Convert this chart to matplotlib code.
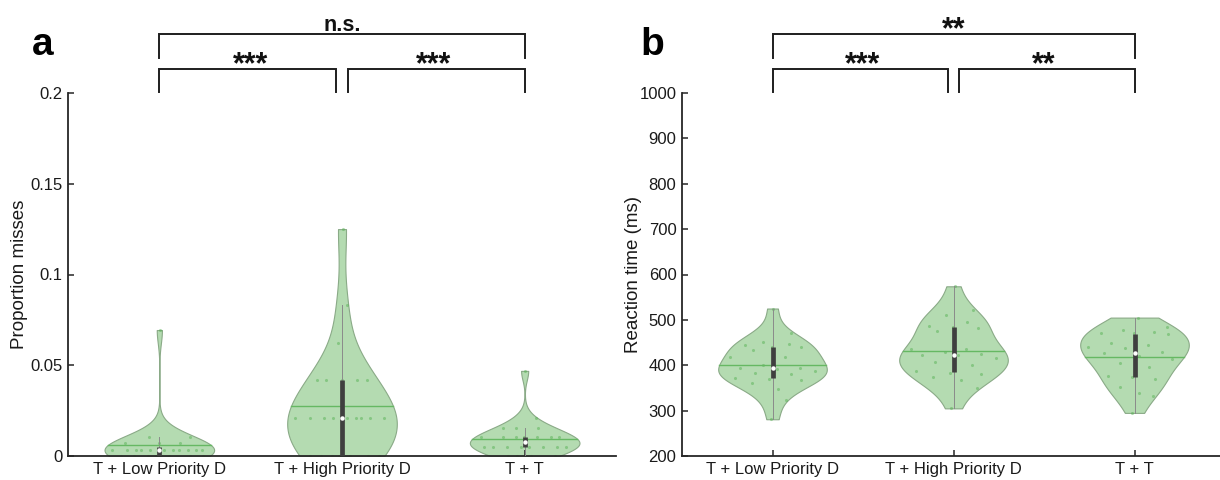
import numpy as np
import matplotlib
matplotlib.use("Agg")
import matplotlib.pyplot as plt

# ---------------- data ----------------
categories = ["T + Low Priority D", "T + High Priority D", "T + T"]

misses_low = [0.0, 0.0, 0.0, 0.0, 0.0, 0.0, 0.0,
              0.0035, 0.0035, 0.0035, 0.0035, 0.0035, 0.0035, 0.0035, 0.0035,
              0.0035, 0.0035, 0.0035,
              0.0069, 0.0069, 0.0069, 0.0104, 0.0104, 0.0694]
misses_high = [0.0, 0.0, 0.0, 0.0, 0.0, 0.0, 0.0,
               0.0208, 0.0208, 0.0208, 0.0208, 0.0208, 0.0208, 0.0208, 0.0208, 0.0208,
               0.0417, 0.0417, 0.0417, 0.0417, 0.0417,
               0.0625, 0.0833, 0.125]
misses_tt = [0.0, 0.0, 0.0, 0.0,
             0.0052, 0.0052, 0.0052, 0.0052, 0.0052, 0.0052, 0.0052, 0.0052,
             0.0104, 0.0104, 0.0104, 0.0104, 0.0104, 0.0104, 0.0104,
             0.0156, 0.0156, 0.0156, 0.0208, 0.0469]

rt_low = [281, 323, 347, 361, 367, 370, 372, 380, 384, 387, 391, 393,
          393, 400, 418, 418, 433, 440, 441, 444, 446, 451, 471, 525]
rt_high = [305, 350, 367, 374, 380, 383, 388, 400, 407, 415, 422, 423,
           424, 430, 435, 435, 475, 483, 485, 486, 495, 510, 521, 574]
rt_tt = [295, 332, 338, 352, 370, 374, 376, 396, 405, 413, 420, 426,
         430, 437, 441, 444, 449, 468, 471, 472, 474, 478, 485, 505]

misses_yticks = [0, 0.05, 0.1, 0.15, 0.2]
misses_yticklabels = ["0", "0.05", "0.1", "0.15", "0.2"]
rt_yticks = [200, 300, 400, 500, 600, 700, 800, 900, 1000]

# significance: (group i, group j, label, level) level 0 = inner, 1 = outer
sig_a = [(1, 2, "***", 0), (2, 3, "***", 0), (1, 3, "n.s.", 1)]
sig_b = [(1, 2, "***", 0), (2, 3, "**", 0), (1, 3, "**", 1)]

# ---------------- style ----------------
plt.rcParams["font.family"] = ["Liberation Sans", "DejaVu Sans"]
FACE = "#b4dbb1"
EDGE = "#8aaa87"
MEANC = "#66b863"
DOTC = "#4fae4c"
BOXC = "#3f3f3f"
WHISK = "#8a8a8a"
AXC = "#262626"
HALF = 0.3


def bw_h(x):
    x = np.asarray(x, float)
    return np.std(x, ddof=1) * x.size ** (-0.2)


def dens(x, y):
    x = np.asarray(x, float)
    h = bw_h(x)
    y = np.atleast_1d(y)
    return np.exp(-0.5 * ((y[:, None] - x[None, :]) / h) ** 2).sum(axis=1)


def draw_violins(ax, groups):
    pos = np.arange(1, len(groups) + 1)
    parts = ax.violinplot(groups, positions=pos, widths=2 * HALF,
                          showextrema=False, bw_method="scott", points=300)
    for b in parts["bodies"]:
        b.set_facecolor(FACE)
        b.set_edgecolor(EDGE)
        b.set_alpha(1)
        b.set_linewidth(0.8)
        b.set_zorder(1)
    golden = 0.6180339887
    for p, g in zip(pos, groups):
        g = np.asarray(g, float)
        grid = np.linspace(g.min(), g.max(), 400)
        dmax = dens(g, grid).max()
        # deterministic jitter inside the violin
        k = np.arange(g.size)
        jit = 2 * ((k * golden + 0.37) % 1.0) - 1
        xs = p + 0.9 * jit * HALF * dens(g, g) / dmax
        ax.scatter(xs, g, s=5, color=DOTC, alpha=0.45, lw=0, zorder=2)
        q1, med, q3 = np.quantile(g, [0.25, 0.5, 0.75], method="hazen")
        iqr = q3 - q1
        lo = max(q1 - 1.5 * iqr, g[g >= q1 - 1.5 * iqr].min())
        hi = min(q3 + 1.5 * iqr, g[g <= q3 + 1.5 * iqr].max())
        ax.plot([p, p], [lo, hi], color=WHISK, lw=0.7, zorder=3)
        m = g.mean()
        w = HALF * dens(g, m)[0] / dmax
        ax.plot([p - w, p + w], [m, m], color=MEANC, lw=1.0, zorder=3)
        ax.plot([p, p], [q1, q3], color=BOXC, lw=3.4, solid_capstyle="butt", zorder=4)
        ax.plot([p], [med], marker="o", ms=2.2, mfc="white", mec="white", zorder=5)


def style_axes(ax):
    for s in ["top", "right"]:
        ax.spines[s].set_visible(False)
    for s in ["left", "bottom"]:
        ax.spines[s].set_color(AXC)
        ax.spines[s].set_linewidth(1.3)
    ax.tick_params(direction="in", length=4.5, width=1.1, color=AXC,
                   labelsize=12, labelcolor="#1a1a1a", pad=4)
    ax.set_xticks([1, 2, 3])
    ax.set_xticklabels(categories)
    ax.set_xlim(0.5, 3.5)


def brackets(ax, sigs, inner_gap=0.033):
    tr = ax.get_xaxis_transform()
    levels = {0: (1.0661, 1.0028), 1: (1.1625, 1.0964)}
    for i, j, lab, lev in sigs:
        top, bot = levels[lev]
        x0, x1 = float(i), float(j)
        if lev == 0:
            if i == 1:
                x1 -= inner_gap
            else:
                x0 += inner_gap
        ax.plot([x0, x0, x1, x1], [bot, top, top, bot], color="#1e1e1e", lw=1.4,
                transform=tr, clip_on=False, solid_joinstyle="miter")
        xc = (i + j) / 2
        if lab.startswith("n"):
            ax.text(xc, top + 0.007, lab, transform=tr, ha="center", va="baseline",
                    fontsize=15.5, fontweight="bold", color="#111111", clip_on=False)
        else:
            ax.text(xc, top - 0.013, lab, transform=tr, ha="center", va="baseline",
                    fontsize=22, fontweight="bold", color="#111111", clip_on=False)


fig = plt.figure(figsize=(12.2, 4.8), dpi=100)
W, H = 1220.0, 480.0
ax_a = fig.add_axes([68 / W, 24 / H, 548 / W, 363 / H])
ax_b = fig.add_axes([682 / W, 24 / H, 543 / W, 363 / H])

draw_violins(ax_a, [misses_low, misses_high, misses_tt])
style_axes(ax_a)
ax_a.set_ylim(0, 0.2)
ax_a.set_yticks(misses_yticks)
ax_a.set_yticklabels(misses_yticklabels)
ax_a.set_ylabel("Proportion misses", fontsize=13.5, color="#1a1a1a", va="center")
ax_a.yaxis.set_label_coords(-0.0894, 0.5)
brackets(ax_a, sig_a)

draw_violins(ax_b, [rt_low, rt_high, rt_tt])
style_axes(ax_b)
ax_b.set_ylim(200, 1000)
ax_b.set_yticks(rt_yticks)
ax_b.set_ylabel("Reaction time (ms)", fontsize=13.5, color="#1a1a1a", va="center")
ax_b.yaxis.set_label_coords(-0.0884, 0.5)
brackets(ax_b, sig_b)

fig.text(43 / W, 1 - 55 / H, "a", fontsize=28, fontweight="bold", ha="center", va="baseline")
fig.text(652 / W, 1 - 55 / H, "b", fontsize=28, fontweight="bold", ha="center", va="baseline")

fig.savefig("out.png", dpi=100, facecolor="white")
